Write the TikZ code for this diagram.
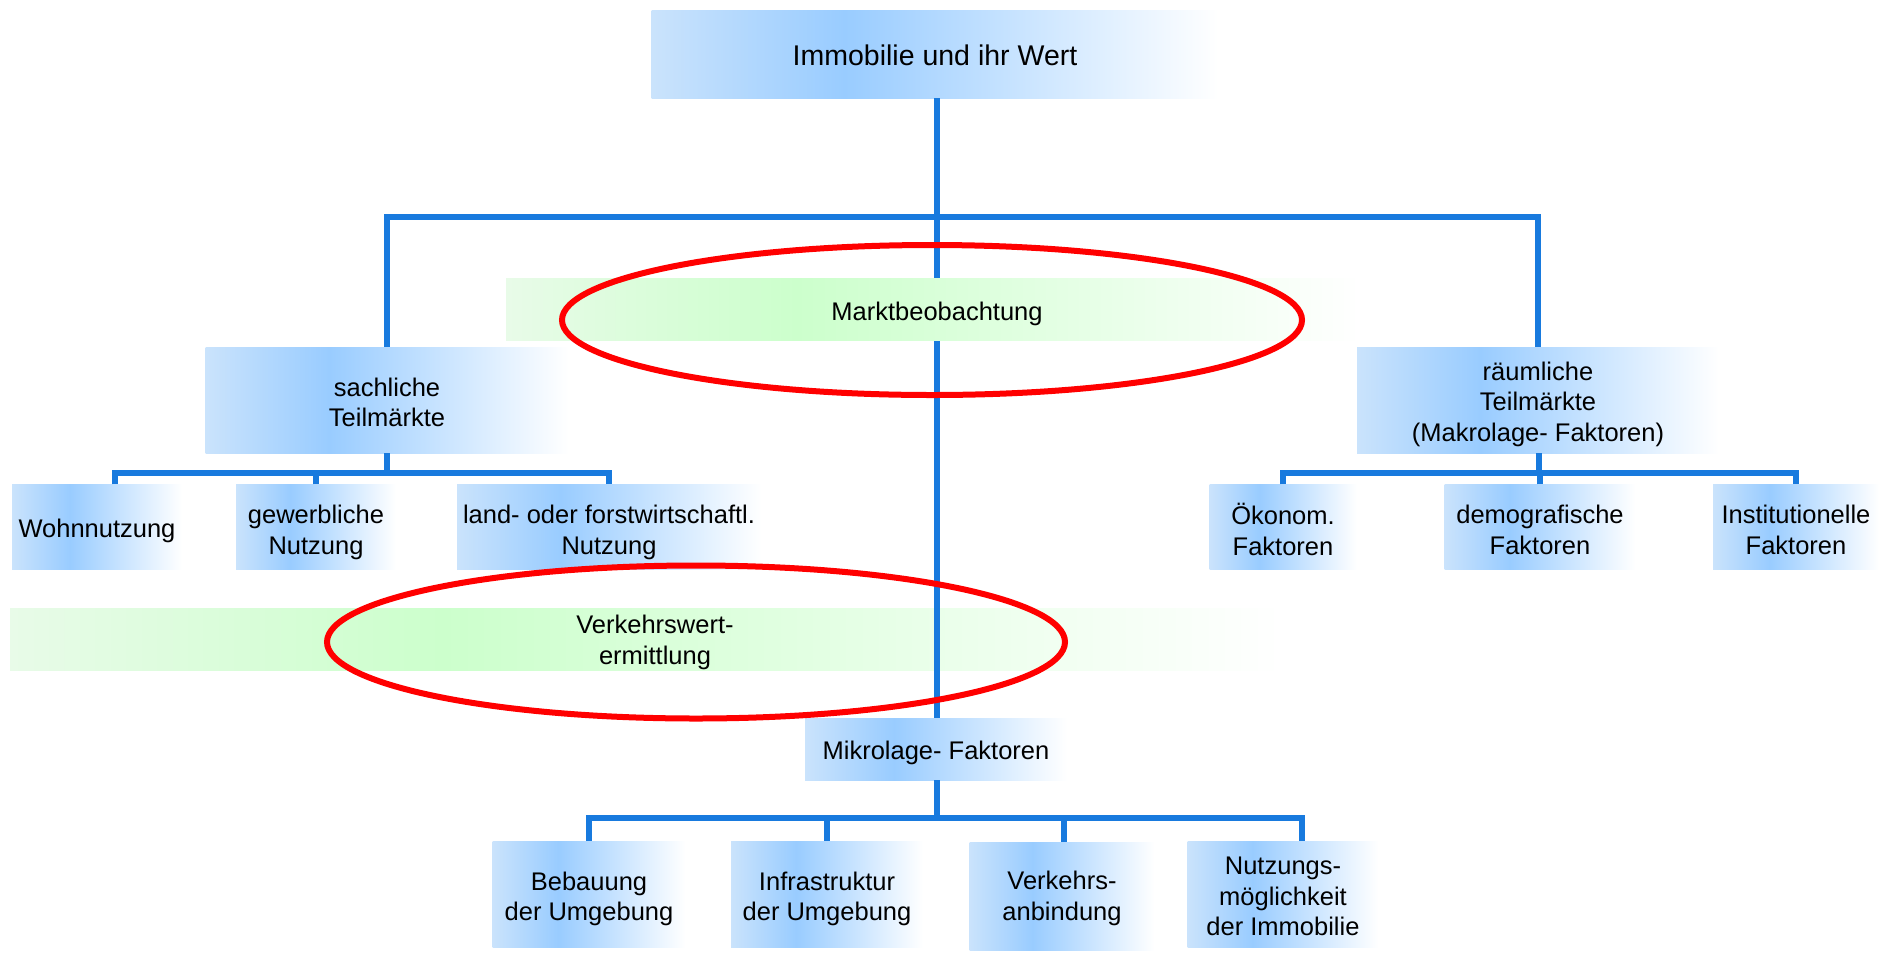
\documentclass[tikz,border=0pt]{standalone}
\usepackage{fontspec}
\setmainfont{Liberation Sans}
\usetikzlibrary{shapes.geometric}
\definecolor{bl1}{RGB}{202,227,252}
\definecolor{bl2}{RGB}{153,204,255}
\definecolor{gr1}{RGB}{232,251,232}
\definecolor{gr2}{RGB}{204,255,204}
\definecolor{linkblue}{RGB}{24,122,222}
\pgfdeclarehorizontalshading{bluefade}{100bp}{color(0bp)=(bl1); color(25bp)=(bl1); color(42bp)=(bl2); color(75bp)=(white); color(100bp)=(white)}
\pgfdeclarehorizontalshading{greenfade}{100bp}{color(0bp)=(gr1); color(25bp)=(gr1); color(42bp)=(gr2); color(75bp)=(white); color(100bp)=(white)}
\newcommand\dgtxt{\fontsize{25.5}{30.5}\selectfont}
\newcommand\dgtop{\fontsize{28.5}{33}\selectfont}
\begin{document}
\begin{tikzpicture}[x=1pt,y=-1pt,
  box/.style={shade, shading=bluefade, inner sep=0pt},
  band/.style={shade, shading=greenfade, inner sep=0pt},
  lbl/.style={inner sep=0pt, align=center, font=\dgtxt},
  conn/.style={draw=linkblue, line width=6pt},
  ring/.style={draw=red, line width=6pt, ellipse, inner sep=0pt}]
\useasboundingbox (0,0) rectangle (1879,954);

% lower green band (below connectors)
\node[band, minimum width=1272pt, minimum height=62pt] (vband) at (646,639) {};
\node[lbl, yshift=-1.5pt] (vtext) at (655,641) {Verkehrswert-\\ermittlung};

% nodes
\node[box, minimum width=567pt, minimum height=88pt,
  label={[lbl, font=\dgtop, yshift=-1.5pt, name=topt]center:Immobilie und ihr Wert}] (top) at (935,54) {};
\node[box, minimum width=363pt, minimum height=106pt,
  label={[lbl, yshift=-2.5pt, name=sachlt]center:{sachliche\\Teilmärkte}}] (sachl) at (387,400) {};
\node[box, minimum width=362pt, minimum height=106pt,
  label={[lbl, yshift=-4pt, name=raeumlt]center:{räumliche\\Teilmärkte\\(Makrolage- Faktoren)}}] (raeuml) at (1538,400) {};
\node[box, minimum width=170pt, minimum height=85pt,
  label={[lbl, yshift=-3.5pt, name=wohnt]center:Wohnnutzung}] (wohn) at (97,527) {};
\node[box, minimum width=160pt, minimum height=85pt,
  label={[lbl, yshift=-5.5pt, name=gewerbt]center:{gewerbliche\\Nutzung}}] (gewerb) at (316,527) {};
\node[box, minimum width=304pt, minimum height=85pt,
  label={[lbl, yshift=-5.5pt, name=landt]center:{land- oder forstwirtschaftl.\\Nutzung}}] (land) at (609,527) {};
\node[box, minimum width=147pt, minimum height=85pt,
  label={[lbl, yshift=-2.5pt, name=oekont]center:{Ökonom.\\Faktoren}}] (oekon) at (1283,527) {};
\node[box, minimum width=191pt, minimum height=85pt,
  label={[lbl, yshift=-3pt, name=demot]center:{demografische\\Faktoren}}] (demo) at (1540,527) {};
\node[box, minimum width=166pt, minimum height=85pt,
  label={[lbl, yshift=-3pt, name=instt]center:{Institutionelle\\Faktoren}}] (inst) at (1796,527) {};
\node[box, minimum width=262pt, minimum height=62pt,
  label={[lbl, yshift=-3.5pt, name=mikrot]center:Mikrolage- Faktoren}] (mikro) at (936,749) {};
\node[box, minimum width=193pt, minimum height=106pt,
  label={[lbl, yshift=-5pt, name=bebaut]center:{Bebauung\\der Umgebung}}] (bebau) at (589,894) {};
\node[box, minimum width=192pt, minimum height=106pt,
  label={[lbl, yshift=-5pt, name=infrat]center:{Infrastruktur\\der Umgebung}}] (infra) at (827,894) {};
\node[box, minimum width=185pt, minimum height=108pt,
  label={[lbl, yshift=-2.5pt, name=verkt]center:{Verkehrs-\\anbindung}}] (verk) at (1062,896) {};
\node[box, minimum width=191pt, minimum height=106pt,
  label={[lbl, yshift=-2.5pt, name=nutzt]center:{Nutzungs-\\möglichkeit\\der Immobilie}}] (nutz) at (1283,894) {};

% connectors
\coordinate (h1) at (937,217);
\coordinate (b1) at (387,473);
\coordinate (b2) at (1539,473);
\coordinate (b3) at (937,818);
\draw[conn] (top.south -| h1) -- (mikro.north -| h1);
\draw[conn] (sachl.north) |- (h1) -| (raeuml.north);
\draw[conn] (sachl.south) -- (b1);
\draw[conn] ([xshift=18pt]wohn.north) |- (b1) -| (land.north);
\draw[conn] (gewerb.north) -- (gewerb.north |- b1);
\draw[conn] (raeuml.south -| b2) -- (b2);
\draw[conn] (oekon.north) |- (b2) -| (inst.north);
\draw[conn] (demo.north) -- (demo.north |- b2);
\draw[conn] (mikro.south -| b3) -- (b3);
\draw[conn] (bebau.north) |- (b3) -| ([xshift=19pt]nutz.north);
\draw[conn] (infra.north) -- (infra.north |- b3);
\draw[conn] ([xshift=2pt]verk.north) -- ([xshift=2pt]verk.north |- b3);

% upper green band (covers trunk)
\node[band, minimum width=854pt, minimum height=62pt] (mband) at (933,309) {};
\node[lbl, yshift=-3.5pt] (mtext) at (937,310) {Marktbeobachtung};

% red highlight rings
\node[ring, minimum width=740pt, minimum height=150pt] (ring1) at (932,320) {};
\node[ring, minimum width=738pt, minimum height=153pt] (ring2) at (696,642) {};
\end{tikzpicture}
\end{document}
